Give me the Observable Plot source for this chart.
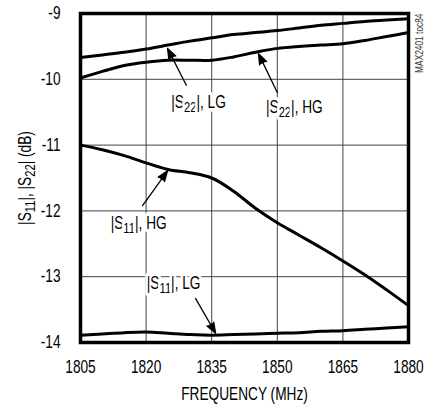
<!DOCTYPE html>
<html>
<head>
<meta charset="utf-8">
<script src="https://cdn.jsdelivr.net/npm/d3@7"></script>
<script src="https://cdn.jsdelivr.net/npm/@observablehq/plot@0.6"></script>
<style>
  html, body { margin: 0; padding: 0; background: #fff; }
</style>
</head>
<body>
<div id="chart"></div>
<script>
// ---- data ----
const freq = [1805, 1810, 1815, 1820, 1825, 1830, 1835, 1840, 1845, 1850, 1855, 1860, 1865, 1870, 1875, 1880];
const s22LG = [-9.67, -9.63, -9.59, -9.54, -9.48, -9.42, -9.37, -9.32, -9.29, -9.26, -9.22, -9.18, -9.15, -9.12, -9.10, -9.08];
const s22HG = [-9.98, -9.88, -9.79, -9.74, -9.71, -9.71, -9.71, -9.66, -9.59, -9.53, -9.50, -9.48, -9.46, -9.41, -9.35, -9.29];
const s11HG = [-11.0, -11.07, -11.16, -11.27, -11.37, -11.42, -11.50, -11.70, -11.96, -12.18, -12.37, -12.56, -12.76, -12.97, -13.20, -13.44];
const s11LG = [-13.89, -13.87, -13.85, -13.84, -13.86, -13.88, -13.89, -13.88, -13.87, -13.86, -13.85, -13.83, -13.82, -13.80, -13.78, -13.76];
const seriesNames = ["|S22|, LG", "|S22|, HG", "|S11|, HG", "|S11|, LG"];
const xTicks = [1805, 1820, 1835, 1850, 1865, 1880];
const yTicks = [-14, -13, -12, -11, -10, -9];
const xTitle = "FREQUENCY (MHz)";
const yTitle = "|S11|, |S22| (dB)";
const note = "MAX2401 toc84";

// annotation label positions (data units) and arrow tails/tips
const labelX = [1832.0, 1853.9, 1818.3, 1826.3];
const labelY = [-10.35, -10.43, -12.18, -13.10];
const arrowX1 = [1829.2, 1850.0, 1819.2, 1831.3];
const arrowY1 = [-10.09, -10.20, -11.92, -13.33];
const arrowX2 = [1824.9, 1845.7, 1824.9, 1835.9];
const arrowY2 = [-9.53, -9.61, -11.39, -13.86];

// ---- build tables ----
const seriesValues = [s22LG, s22HG, s11HG, s11LG];
const data = seriesValues.flatMap((vals, i) => vals.map((v, j) => ({series: seriesNames[i], x: freq[j], y: v})));
const labels = seriesNames.map((n, i) => ({
  text: n, x: labelX[i], y: labelY[i],
  x1: arrowX1[i], y1: arrowY1[i], x2: arrowX2[i], y2: arrowY2[i]
}));

const font = "'Liberation Sans Narrow', 'Arial Narrow', 'Liberation Sans', Arial, sans-serif";
const condense = 0.76; // reference uses a condensed face

const chart = Plot.plot({
  width: 432,
  height: 407,
  marginLeft: 80,
  marginRight: 24,
  marginTop: 13,
  marginBottom: 65,
  style: {fontFamily: font, fontSize: "18px", background: "white", color: "black"},
  x: {domain: [1805, 1880]},
  y: {domain: [-14, -9]},
  marks: [
    Plot.gridX(xTicks, {stroke: "#444", strokeOpacity: 1, strokeWidth: 1}),
    Plot.gridY(yTicks, {stroke: "#444", strokeOpacity: 1, strokeWidth: 1}),
    Plot.axisX(xTicks, {tickSize: 0, tickPadding: 18, tickFormat: d => String(d), label: null, fontSize: 18}),
    Plot.axisY(yTicks, {tickSize: 0, tickPadding: 20, tickFormat: d => String(d), label: null, fontSize: 18}),
    Plot.text(labels, {x: "x", y: "y", text: "text", fill: "black", stroke: "white", strokeWidth: 7,
      paintOrder: "stroke", strokeLinejoin: "round", fontSize: 18}),
    Plot.line(data, {x: "x", y: "y", z: "series", stroke: "black", strokeWidth: 3, curve: "catmull-rom"}),
    Plot.arrow(labels, {x1: "x1", y1: "y1", x2: "x2", y2: "y2", stroke: "black", fill: "black",
      strokeWidth: 1.3, headLength: 13, headAngle: 40}),
    Plot.text([xTitle], {frameAnchor: "bottom", lineAnchor: "middle", dy: 52, fontSize: 18}),
    Plot.text([yTitle], {frameAnchor: "left", textAnchor: "middle", lineAnchor: "middle", dx: -55, rotate: -90, fontSize: 18}),
    Plot.text([note], {frameAnchor: "top-right", dx: 11, rotate: -90, textAnchor: "end", lineAnchor: "middle", fontSize: 11, fill: "#333"}),
    Plot.frame({stroke: "black", strokeWidth: 3.5})
  ]
});

const svg = d3.select(chart.tagName.toLowerCase() === "svg" ? chart : chart.querySelector("svg"));

// render subscripts in S11 / S22
svg.selectAll("text").each(function() {
  const el = this;
  const s = el.textContent;
  if (!/S\d\d/.test(s) || el.querySelector("tspan")) return;
  el.textContent = "";
  const parts = s.split(/(\d\d)/);
  let shifted = false;
  parts.forEach(p => {
    if (p === "") return;
    const t = document.createElementNS("http://www.w3.org/2000/svg", "tspan");
    if (/^\d\d$/.test(p)) {
      t.setAttribute("font-size", "0.82em");
      t.setAttribute("dy", "4");
      shifted = true;
    } else if (shifted) {
      t.setAttribute("dy", "-4");
      shifted = false;
    }
    t.textContent = p;
    el.appendChild(t);
  });
});

// condense all text horizontally around its anchor point
svg.selectAll("text").each(function() {
  const el = this;
  const tr = el.getAttribute("transform");
  if (tr) {
    el.setAttribute("transform", tr + ` scale(${condense},1)`);
  } else {
    const x = +el.getAttribute("x") || 0, y = +el.getAttribute("y") || 0;
    el.setAttribute("transform", `translate(${x},${y}) scale(${condense},1) translate(${-x},${-y})`);
  }
});

document.getElementById("chart").appendChild(chart);
</script>
</body>
</html>
